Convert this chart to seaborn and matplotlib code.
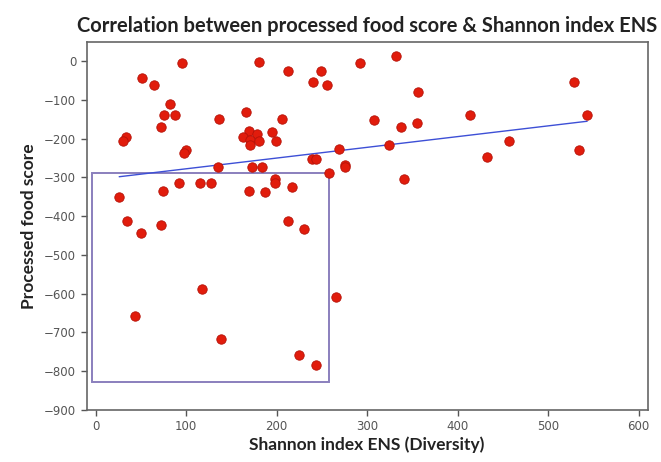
import numpy as np
import pandas as pd
import matplotlib
matplotlib.use("Agg")
import matplotlib.pyplot as plt
from matplotlib.patches import Rectangle
import seaborn as sns

# values
shannon_ens = [51, 64, 95, 181, 212, 249, 240, 256, 82, 76,
               88, 72, 136, 166, 206, 33, 30, 169, 163, 178,
               171, 181, 170, 195, 199, 100, 98, 269, 239, 243,
               276, 276, 135, 173, 184, 258, 92, 115, 127, 198,
               198, 217, 74, 169, 187, 26, 35, 72, 50, 212,
               230, 292, 332, 356, 529, 308, 337, 355, 414, 543,
               324, 457, 432, 534, 341, 118, 43, 266, 138, 225,
               244]
processed_score = [-45, -61, -4, -3, -25, -25, -55, -61, -112, -140,
                   -140, -170, -150, -132, -150, -197, -205, -180, -197, -188,
                   -204, -205, -217, -184, -205, -229, -238, -227, -253, -253,
                   -268, -274, -274, -274, -274, -289, -315, -315, -315, -305,
                   -314, -324, -336, -335, -338, -351, -412, -423, -443, -412,
                   -433, -4, 14, -81, -55, -152, -170, -160, -139, -139,
                   -217, -206, -247, -230, -304, -588, -657, -609, -717, -759,
                   -784]

# highlighted region (low diversity group)
box_x = [-4, 258]
box_y = [-828, -290]

x_ticks = [0, 100, 200, 300, 400, 500, 600]
y_ticks = [0, -100, -200, -300, -400, -500, -600, -700, -800, -900]

df = pd.DataFrame({"ens": shannon_ens, "score": processed_score})

sns.set_style("white")
plt.rcParams["font.family"] = ["DejaVu Sans"]

fig = plt.figure(figsize=(6.61, 4.62), dpi=100)
ax = fig.add_axes([0.131, 0.1126, 0.849, 0.7964])

sns.regplot(data=df, x="ens", y="score", ax=ax, ci=None, truncate=True,
            scatter_kws=dict(s=46, color="#e11c0c", edgecolor="#b51208",
                             linewidths=0.6, alpha=1, zorder=3),
            line_kws=dict(color="#3d4fd6", linewidth=1.0, zorder=2))

ax.add_patch(Rectangle((box_x[0], box_y[0]), box_x[1] - box_x[0],
                       box_y[1] - box_y[0], fill=False,
                       edgecolor="#8a7fbd", linewidth=1.4, zorder=1))

ax.set_xlim(-10, 610)
ax.set_ylim(-900, 49)
ax.set_xticks(x_ticks)
ax.set_yticks(y_ticks)
ax.tick_params(axis="both", direction="out", length=4, width=1,
               color="#555555", labelcolor="#555555", labelsize=8.5,
               left=True, bottom=True)
for sp in ax.spines.values():
    sp.set_color("#666666")
    sp.set_linewidth(1.2)

narrow = ["Lato", "DejaVu Sans"]
ax.set_xlabel("Shannon index ENS (Diversity)", fontsize=12.5, fontweight="bold",
              family=narrow, color="#222222", labelpad=2)
ax.set_ylabel("Processed food score", fontsize=12.5, fontweight="bold",
              family=narrow, color="#222222", labelpad=5)
ax.set_title("Correlation between processed food score & Shannon index ENS",
             fontsize=14.5, fontweight="bold", family=narrow, color="#222222",
             pad=7)

fig.savefig("out.png", dpi=100)
